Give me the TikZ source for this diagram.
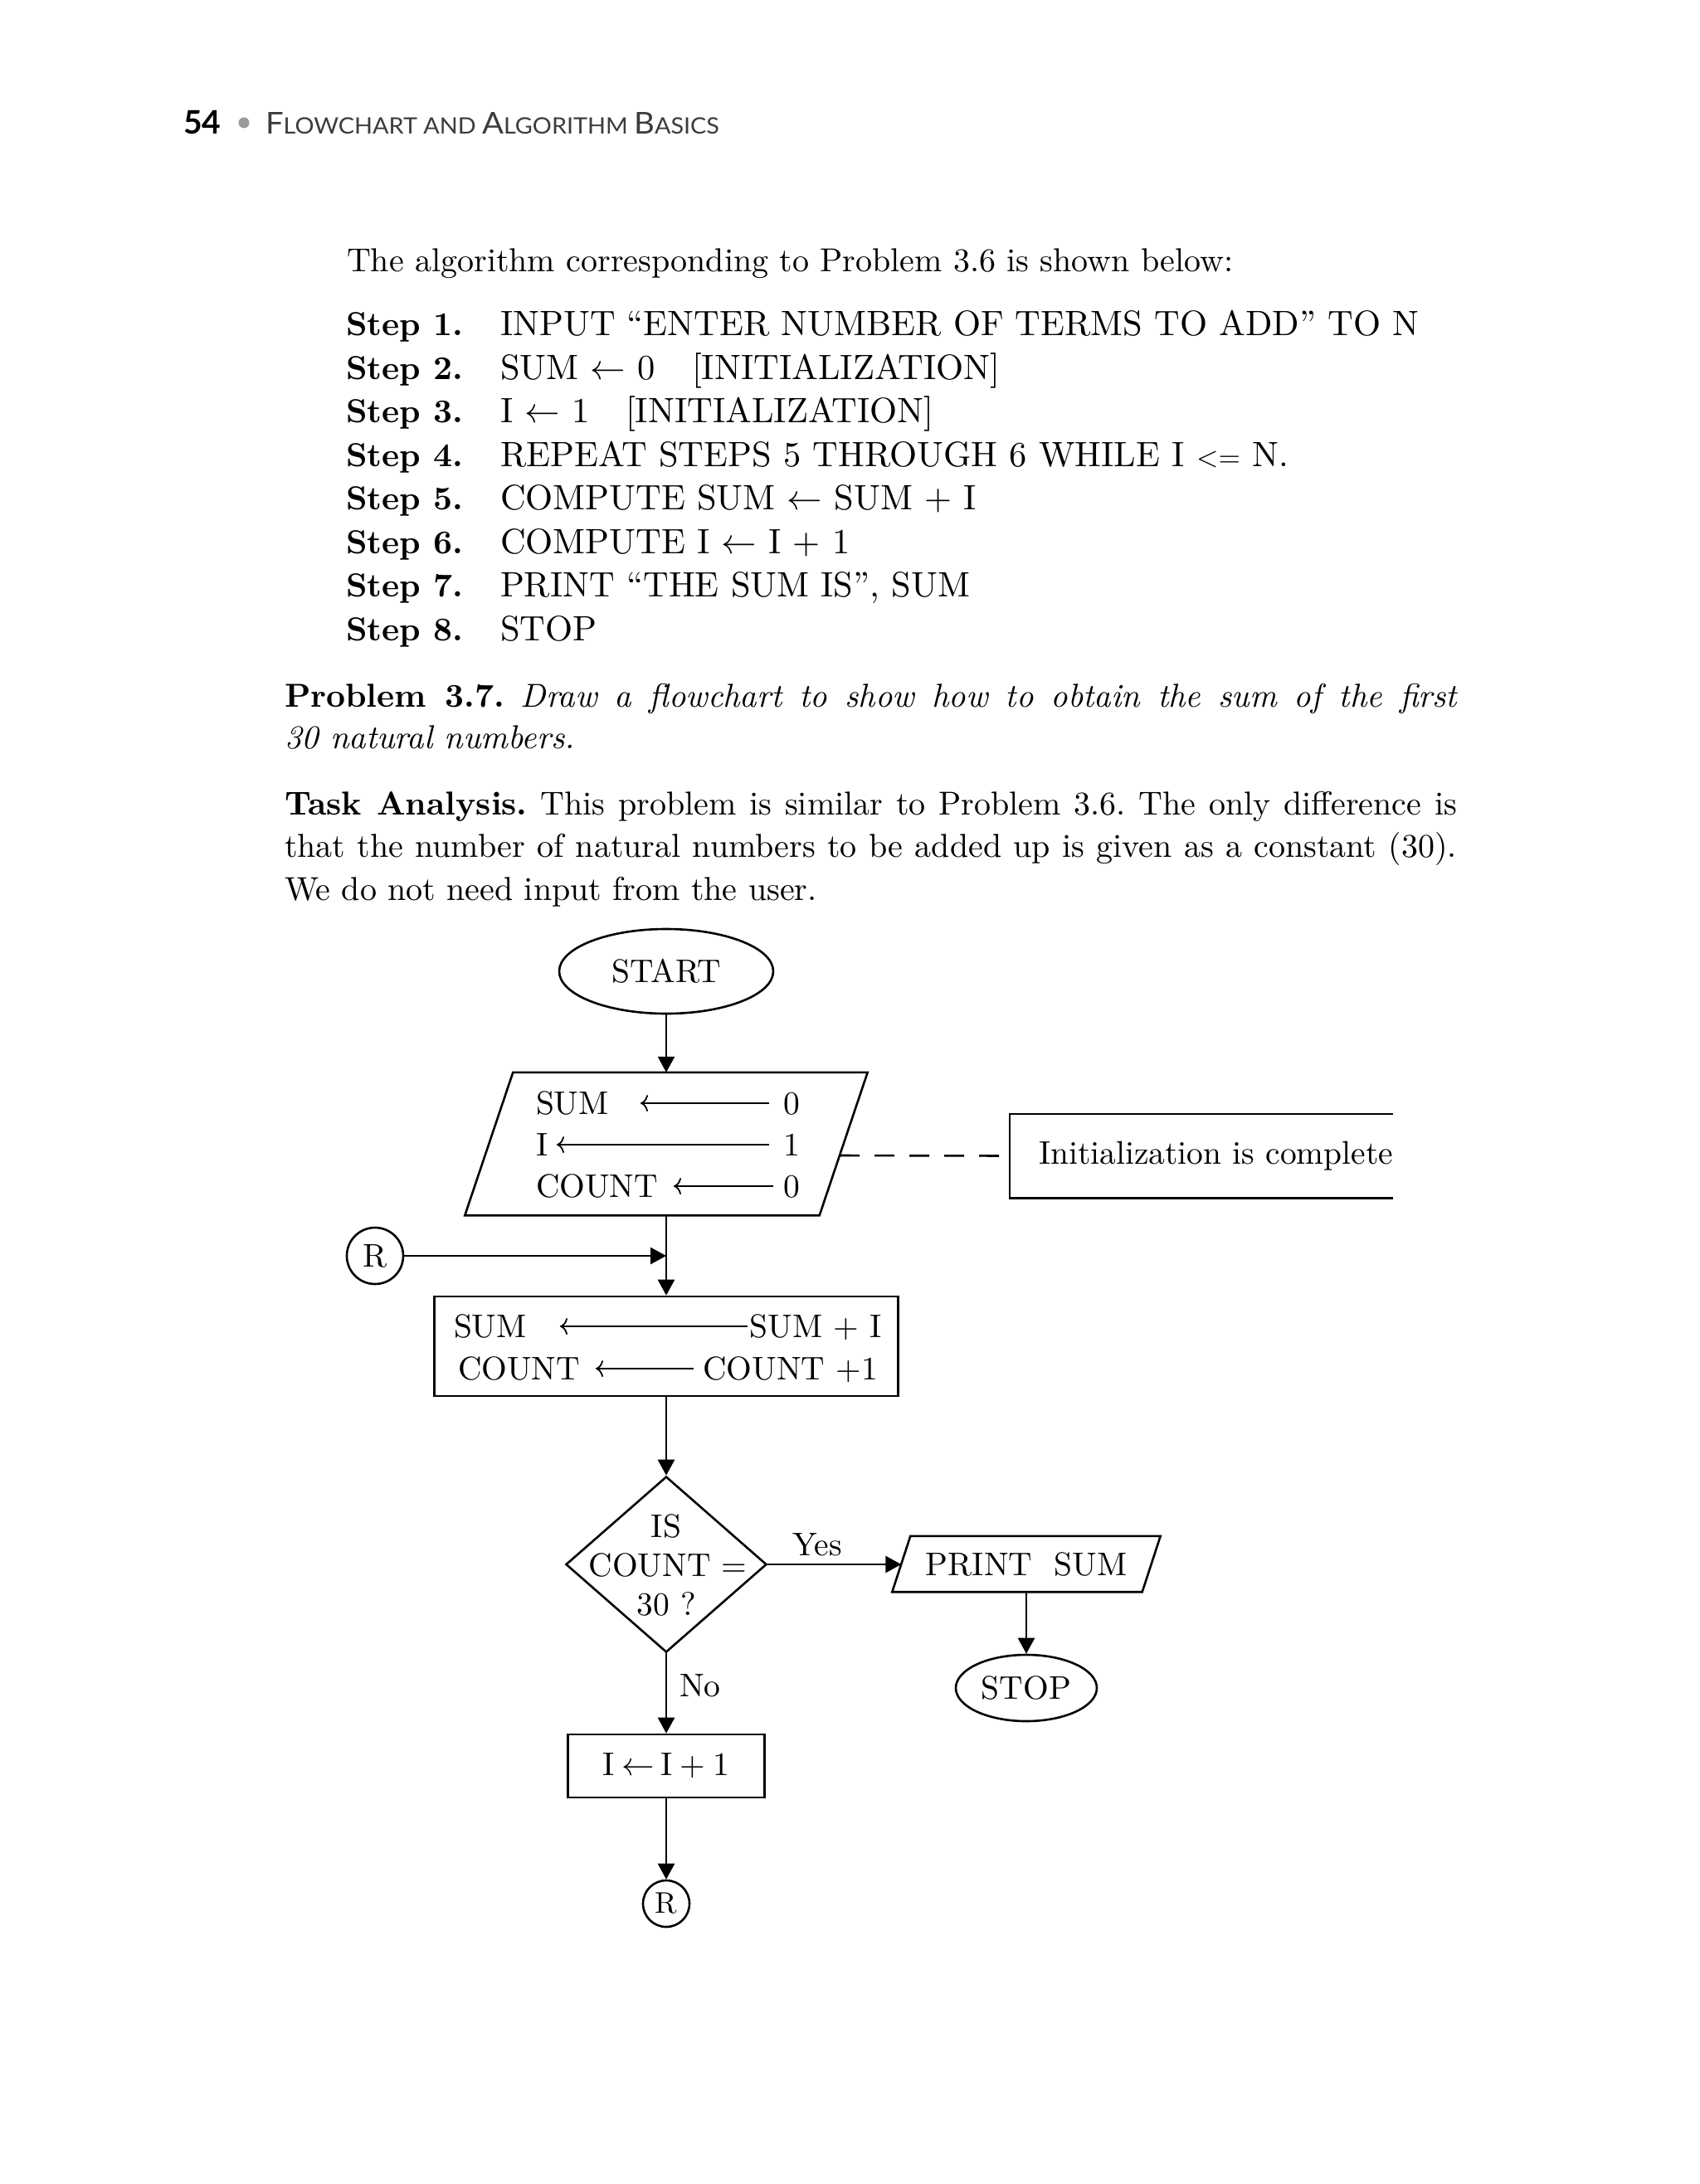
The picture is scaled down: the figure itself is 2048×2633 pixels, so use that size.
\RequirePackage{fix-cm}
\documentclass[tikz,border=0pt]{standalone}
\usepackage{fontspec}
\usepackage{graphicx}
\setmainfont{lmroman10-regular.otf}[BoldFont=lmroman10-bold.otf, ItalicFont=lmroman10-italic.otf, BoldItalicFont=lmroman10-bolditalic.otf]
\newfontfamily\hdrfont{Lato}
\usetikzlibrary{arrows.meta,shapes.geometric}
\definecolor{hdrgray}{HTML}{3C3C3C}
\definecolor{bulgray}{HTML}{9A9A9A}
\newcommand\bodyfs{\fontsize{40}{48}\selectfont}
\newcommand\capsfs{\fontsize{42.5}{50}\selectfont}
\newcommand\chartfs{\fontsize{39.5}{47}\selectfont}
\newcommand\smallsc{\fontsize{27}{30}\selectfont}
\newcommand\la{$\leftarrow$}
\frenchspacing
\tikzset{
  txt/.style={inner sep=0pt, outer sep=0pt, anchor=base west},
  flow/.style={draw, line width=2.6pt, inner sep=0pt},
  outline/.style={line width=2.6pt},
  conn/.style={line width=2.6pt, -{Triangle[length=19pt,width=20pt]}},
  inarr/.style={line width=1.8pt, -{Computer Modern Rightarrow[length=9pt,width=20pt]}},
}
\begin{document}
\begin{tikzpicture}[x=1pt,y=-1pt]
\useasboundingbox[fill=white] (0,0) rectangle (2048,2633);

% ---------- header ----------
\node[txt] (hnum) at (221,162) {\hdrfont\bfseries\fontsize{39}{44}\selectfont 54};
\node[circle, fill=bulgray, minimum size=13pt, inner sep=0pt] (hbul) at (294,148) {};
\node[txt] (htitle) at (320,162) {\color{hdrgray}\resizebox{547pt}{26pt}{\hdrfont\fontsize{36}{40}\selectfont F{\smallsc LOWCHART AND }A{\smallsc LGORITHM }B{\smallsc ASICS}}};

% ---------- algorithm ----------
\node[txt] (intro) at (418,327) {\bodyfs The algorithm corresponding to Problem 3.6 is shown below:};

\node[txt] (s1l) at (417,404) {\bodyfs\bfseries Step 1.};
\node[txt] (s1t) at (603,404) {\capsfs INPUT “ENTER NUMBER OF TERMS TO ADD” TO N};
\node[txt] (s2l) at (417,457) {\bodyfs\bfseries Step 2.};
\node[txt] (s2t) at (603,457) {\capsfs SUM \la\ 0};
\node[txt] (s2b) at (834,457) {\capsfs [INITIALIZATION]};
\node[txt] (s3l) at (417,509) {\bodyfs\bfseries Step 3.};
\node[txt] (s3t) at (603,509) {\capsfs I \la\ 1};
\node[txt] (s3b) at (754,509) {\capsfs [INITIALIZATION]};
\node[txt] (s4l) at (417,562) {\bodyfs\bfseries Step 4.};
\node[txt] (s4t) at (603,562) {\capsfs REPEAT STEPS 5 THROUGH 6 WHILE I {\fontsize{34}{40}\selectfont <=} N.};
\node[txt] (s5l) at (417,614) {\bodyfs\bfseries Step 5.};
\node[txt] (s5t) at (603,614) {\capsfs COMPUTE SUM \la\ SUM + I};
\node[txt] (s6l) at (417,667) {\bodyfs\bfseries Step 6.};
\node[txt] (s6t) at (603,667) {\capsfs COMPUTE I \la\ I + 1};
\node[txt] (s7l) at (417,719) {\bodyfs\bfseries Step 7.};
\node[txt] (s7t) at (603,719) {\capsfs PRINT “THE SUM IS”, SUM};
\node[txt] (s8l) at (417,772) {\bodyfs\bfseries Step 8.};
\node[txt] (s8t) at (603,772) {\capsfs STOP};

% ---------- problem & task analysis ----------
\node[txt] (p1) at (343,852) {\bodyfs\makebox[1413pt][s]{{\bfseries Problem 3.7.} {\itshape Draw a flowchart to show how to obtain the sum of the first}}};
\node[txt] (p2) at (343,902) {\bodyfs\itshape 30 natural numbers.};
\node[txt] (t1) at (343,982) {\bodyfs\makebox[1413pt][s]{{\bfseries Task Analysis.} This problem is similar to Problem 3.6. The only difference is}};
\node[txt] (t2) at (343,1033) {\bodyfs\makebox[1413pt][s]{that the number of natural numbers to be added up is given as a constant (30).}};
\node[txt] (t3) at (343,1085) {\bodyfs We do not need input from the user.};

% ---------- flowchart ----------
\node[flow, ellipse, minimum width=258pt, minimum height=102pt, font=\chartfs] (start) at (803,1171) {START};

\node[inner sep=0pt, minimum width=427pt, minimum height=172pt] (init) at (803,1379) {};
\draw[outline] ([xshift=29pt]init.north west) -- ([xshift=29pt]init.north east) -- ([xshift=-29pt]init.south east) -- ([xshift=-29pt]init.south west) -- cycle;
\draw[conn] (start.south) -- (init.north);

\node[txt, font=\chartfs] (i1a) at (646,1343) {SUM};
\node[txt, font=\chartfs] (i1b) at (944,1343) {0};
\coordinate (i1r) at (927,1330); \coordinate (i1l) at (772,1330);
\draw[inarr] (i1r) -- (i1l);
\node[txt, font=\chartfs] (i2a) at (646,1393) {I};
\node[txt, font=\chartfs] (i2b) at (944,1393) {1};
\coordinate (i2r) at (927,1380); \coordinate (i2l) at (671,1380);
\draw[inarr] (i2r) -- (i2l);
\node[txt, font=\chartfs] (i3a) at (646,1443) {COUNT};
\node[txt, font=\chartfs] (i3b) at (944,1443) {0};
\coordinate (i3r) at (932,1430); \coordinate (i3l) at (812,1430);
\draw[inarr] (i3r) -- (i3l);

% annotation
\node[inner sep=0pt, minimum width=462pt, minimum height=101pt] (note) at (1448,1393.5) {};
\draw[outline] (note.north east) -- (note.north west) -- (note.south west) -- (note.south east);
\node[txt, font=\chartfs] (notet) at (1252,1403) {Initialization is complete};
\coordinate (dashL) at (1012,1393);
\draw[outline, dash pattern=on 24pt off 18pt] (dashL) -- (note.west);

% connector R (left)
\node[flow, circle, minimum size=68pt, font=\chartfs] (rL) at (452,1514) {R};

% calc box
\node[flow, rectangle, minimum width=559pt, minimum height=120pt] (calc) at (803,1623) {};
\draw[conn] (init.south) -- (calc.north);
\draw[conn] (rL.east) -- (rL -| init.south);
\node[txt, font=\chartfs] (c1a) at (547,1612) {SUM};
\node[txt, font=\chartfs, anchor=base east] (c1b) at (1063,1612) {SUM + I};
\coordinate (c1r) at (901,1599); \coordinate (c1l) at (675,1599);
\draw[inarr] (c1r) -- (c1l);
\node[txt, font=\chartfs] (c2a) at (552,1663) {COUNT};
\node[txt, font=\chartfs, anchor=base east] (c2b) at (1058,1663) {COUNT +1};
\coordinate (c2r) at (836,1650); \coordinate (c2l) at (718,1650);
\draw[inarr] (c2r) -- (c2l);

% decision
\node[flow, diamond, minimum width=242pt, minimum height=212pt] (dec) at (803,1886) {};
\draw[conn] (calc.south) -- (dec.north);
\node[txt, font=\chartfs, anchor=base] (d1) at (803,1853) {IS};
\node[txt, font=\chartfs, anchor=base] (d2) at (805,1900) {COUNT =};
\node[txt, font=\chartfs, anchor=base] (d3) at (803,1947) {30 ?};

% print
\node[inner sep=0pt, minimum width=301pt, minimum height=67pt, font=\chartfs] (print) at (1237,1885.5) {PRINT\ \ SUM};
\draw[outline] ([xshift=11pt]print.north west) -- ([xshift=11pt]print.north east) -- ([xshift=-11pt]print.south east) -- ([xshift=-11pt]print.south west) -- cycle;
\draw[conn] (dec.east) -- (dec.east -| print.west);
\node[txt, font=\chartfs, anchor=base] (yes) at (985,1875) {Yes};

\node[flow, ellipse, minimum width=170pt, minimum height=80pt, font=\chartfs] (stop) at (1237,2035) {STOP};
\draw[conn] (print.south) -- (stop.north);

% increment
\node[flow, rectangle, minimum width=237pt, minimum height=76pt, font=\chartfs] (inc) at (803,2129) {I\hspace{8pt}\la\hspace{8pt}I\hspace{9pt}+\hspace{9pt}1};
\draw[conn] (dec.south) -- (inc.north);
\node[txt, font=\chartfs] (no) at (819,2045) {No};

\node[flow, circle, minimum size=56pt, font=\fontsize{36}{40}\selectfont] (rB) at (803,2295) {R};
\draw[conn] (inc.south) -- (rB.north);
\end{tikzpicture}
\end{document}
